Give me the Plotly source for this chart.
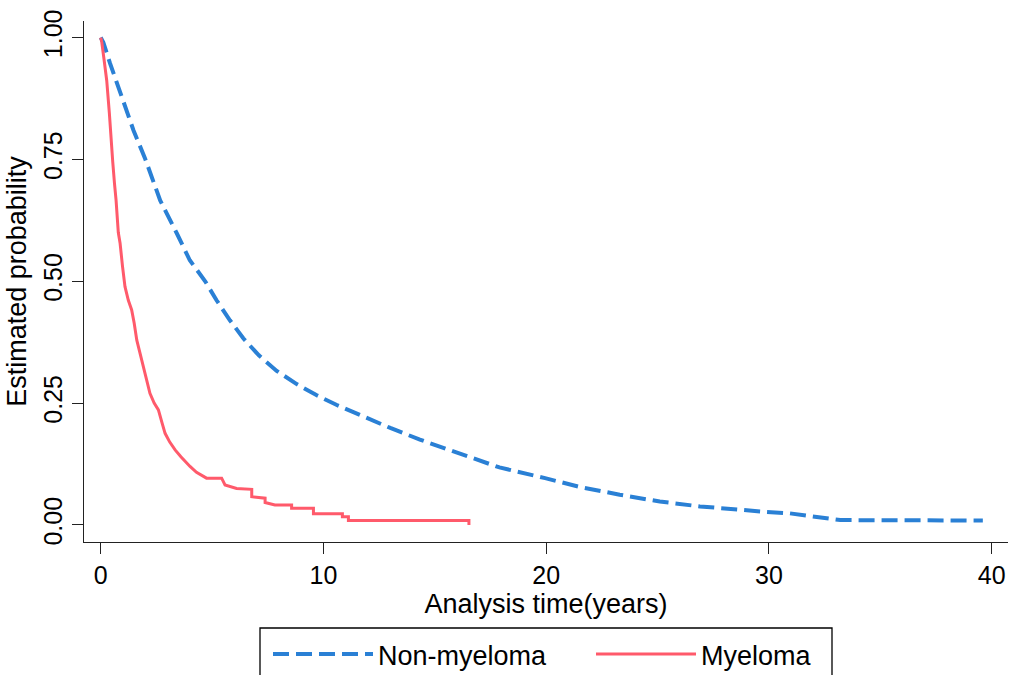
import plotly.graph_objects as go

# Kaplan-Meier survival estimates (time in years, estimated survival probability)
non_myeloma_time = [0, 0.12, 0.42, 0.94, 1.47, 1.99, 2.67, 3.42, 4.0, 4.69, 5.2, 5.8, 6.4,
                    7.1, 7.9, 8.8, 9.7, 10.6, 11.5, 13.0, 14.33, 16.1, 17.9, 19.95, 21.5,
                    23.3, 25.1, 26.9, 27.8, 29.8, 30.9, 32.3, 33.2, 39.6]
non_myeloma_surv = [1.0, 0.99, 0.947, 0.878, 0.81, 0.752, 0.666, 0.598, 0.543, 0.50, 0.461,
                    0.42, 0.383, 0.348, 0.316, 0.289, 0.266, 0.246, 0.228, 0.199, 0.175,
                    0.146, 0.118, 0.096, 0.078, 0.062, 0.048, 0.038, 0.034, 0.027, 0.024,
                    0.016, 0.010, 0.009]

myeloma_time = [0, 0.05, 0.15, 0.27, 0.39, 0.46, 0.54, 0.62, 0.69, 0.79, 0.87, 0.98, 1.09,
                1.24, 1.39, 1.5, 1.62, 1.75, 1.91, 2.05, 2.21, 2.4, 2.59, 2.75, 2.89, 3.1,
                3.34, 3.6, 3.8, 4.01, 4.3, 4.61, 4.75, 5.43, 5.58, 6.1, 6.78, 6.78, 7.38,
                7.38, 7.82, 8.57, 8.57, 9.55, 9.55, 10.85, 10.85, 11.12, 11.12, 16.53, 16.53]
myeloma_surv = [1.0, 0.99, 0.955, 0.912, 0.844, 0.79, 0.745, 0.70, 0.666, 0.60, 0.578, 0.53,
                0.489, 0.461, 0.441, 0.415, 0.379, 0.355, 0.325, 0.30, 0.27, 0.25, 0.236,
                0.21, 0.188, 0.17, 0.154, 0.14, 0.13, 0.12, 0.108, 0.099, 0.096, 0.096,
                0.082, 0.075, 0.073, 0.058, 0.055, 0.046, 0.041, 0.041, 0.034, 0.034,
                0.023, 0.023, 0.017, 0.017, 0.009, 0.009, 0.0]

x_ticks = [0, 10, 20, 30, 40]
y_ticks = [0, 0.25, 0.5, 0.75, 1.0]
y_tick_labels = ["0.00", "0.25", "0.50", "0.75", "1.00"]

BLUE = "#2a80d5"
RED = "#ff5a6b"
FONT = "Liberation Sans, Arial, sans-serif"

# plot-area geometry in pixels
W, H = 1012, 675
L, R, T, B = 84, 4, 21, 133
PW, PH = W - L - R, H - T - B


def px_x(px):
    return (px - L) / PW


def px_y(py):
    return (H - B - py) / PH


fig = go.Figure()
fig.add_trace(go.Scatter(
    x=non_myeloma_time, y=non_myeloma_surv, mode="lines", name="Non-myeloma",
    line=dict(color=BLUE, width=4, dash="16px,7px"),
))
fig.add_trace(go.Scatter(
    x=myeloma_time, y=myeloma_surv, mode="lines", name="Myeloma",
    line=dict(color=RED, width=3),
))

# legend frame (runs off the bottom edge of the page)
fig.add_shape(type="rect", xref="paper", yref="paper",
              x0=px_x(260), x1=px_x(832), y0=px_y(710), y1=px_y(628),
              line=dict(color="black", width=1.3), fillcolor="rgba(0,0,0,0)")

fig.update_layout(
    width=W, height=H,
    margin=dict(l=L, r=R, t=T, b=B, pad=0, autoexpand=False),
    paper_bgcolor="white", plot_bgcolor="white",
    font=dict(family=FONT, size=25, color="black"),
    showlegend=True,
    legend=dict(
        orientation="h", x=px_x(268), y=px_y(630), xanchor="left", yanchor="top",
        font=dict(family=FONT, size=27, color="black"),
        itemwidth=100, entrywidth=208, entrywidthmode="pixels",
        bgcolor="rgba(0,0,0,0)", borderwidth=0,
    ),
    xaxis=dict(
        range=[-0.75, 40.73], tickvals=x_ticks, showgrid=False, zeroline=False,
        showline=True, linecolor="#222", linewidth=1.3,
        ticks="outside", ticklen=11, tickwidth=1.3, tickcolor="#222",
        tickfont=dict(size=25),
        title=dict(text="Analysis time(years)", font=dict(size=27), standoff=2),
    ),
    yaxis=dict(
        range=[-0.035, 1.034], tickvals=y_ticks, ticktext=y_tick_labels,
        tickangle=-90, showgrid=False, zeroline=False,
        showline=True, linecolor="#222", linewidth=1.3,
        ticks="outside", ticklen=11, tickwidth=1.3, tickcolor="#222",
        tickfont=dict(size=25),
        title=dict(text="Estimated probability", font=dict(size=27), standoff=4),
    ),
)

fig.write_html("out.html")
